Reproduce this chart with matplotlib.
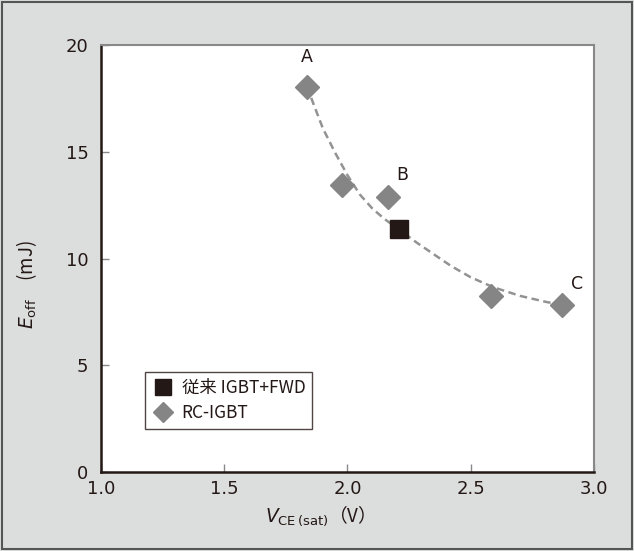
import matplotlib
matplotlib.use("Agg")
import matplotlib.pyplot as plt
from matplotlib.patches import Rectangle

plt.rcParams['font.family'] = ['Noto Sans CJK JP', 'DejaVu Sans']
plt.rcParams['mathtext.fontset'] = 'dejavusans'

# RC-IGBT points
rc_x = [1.836, 1.978, 2.164, 2.582, 2.870]
rc_y = [18.05, 13.45, 12.88, 8.24, 7.82]
# conventional IGBT + FWD
conv_x = [2.209]
conv_y = [11.38]
# dashed trend curve
trend_x = [1.836, 1.86, 1.90, 1.95, 2.00, 2.05, 2.10, 2.15, 2.21, 2.28, 2.35, 2.42, 2.50, 2.59, 2.70, 2.80, 2.87]
trend_y = [18.05, 17.3, 16.1, 14.95, 13.9, 13.0, 12.35, 11.85, 11.35, 10.75, 10.2, 9.65, 9.12, 8.66, 8.25, 7.98, 7.82]
point_labels = ["A", "B", "C"]
label_idx = [0, 2, 4]

x_ticks = [1.0, 1.5, 2.0, 2.5, 3.0]
y_ticks = [0, 5, 10, 15, 20]

dark = '#231815'
grey_mark = '#858585'

fig = plt.figure(figsize=(6.34, 5.51), dpi=100, facecolor='#dcdddd')
ax = fig.add_axes([0.1593, 0.1434, 0.7776, 0.7749])
ax.set_facecolor('white')

ax.plot(trend_x, trend_y, color='#939393', lw=1.8, dashes=(3, 1.8), zorder=2)
ax.plot(conv_x, conv_y, 's', color=dark, ms=13, ls='none', zorder=3, label='従来 IGBT+FWD')
ax.plot(rc_x, rc_y, 'D', color=grey_mark, ms=12, ls='none', zorder=3, label='RC-IGBT')

offsets = [(0.0, 0.95), (0.06, 0.6), (0.06, 0.55)]
for lab, i, (dx, dy) in zip(point_labels, label_idx, offsets):
    ax.text(rc_x[i] + dx, rc_y[i] + dy, lab, fontsize=12.5, color=dark,
            ha='center', va='bottom', family='DejaVu Sans')

ax.set_xlim(1.0, 3.0)
ax.set_ylim(0, 20)
ax.set_xticks(x_ticks)
ax.set_xticklabels([f"{v:.1f}" for v in x_ticks])
ax.set_yticks(y_ticks)
ax.tick_params(direction='in', length=6, width=1, color='#888888',
               labelsize=13, labelcolor=dark)
ax.tick_params(axis='x', pad=6)
ax.tick_params(axis='y', pad=9)
for t in ax.get_xticklabels() + ax.get_yticklabels():
    t.set_family('DejaVu Sans')

for s in ['left', 'bottom']:
    ax.spines[s].set_color(dark)
    ax.spines[s].set_linewidth(1.8)
for s in ['top', 'right']:
    ax.spines[s].set_color('#888888')
    ax.spines[s].set_linewidth(1.5)

ax.set_xlabel(r"$V_{\rm CE\,(sat)}$（V）", fontsize=13.5, color=dark)
ax.xaxis.set_label_coords(0.435, -0.075)
ax.set_ylabel(r"$E_{\rm off}$　(mJ)", fontsize=13.5, color=dark)
ax.yaxis.set_label_coords(-0.125, 0.44)

leg = ax.legend(loc='lower left', bbox_to_anchor=(0.072, 0.08), fontsize=12.5,
                frameon=True, fancybox=False, edgecolor=dark, handletextpad=0.5,
                borderpad=0.4, labelspacing=0.42, handlelength=1.2, markerscale=0.85)
leg.get_frame().set_linewidth(1.0)
for t in leg.get_texts():
    t.set_color(dark)

fig.patches.append(Rectangle((0.003, 0.003), 0.994, 0.994, transform=fig.transFigure,
                             fill=False, edgecolor='#555555', lw=1.5))

fig.savefig("out.png", dpi=100, facecolor=fig.get_facecolor())
